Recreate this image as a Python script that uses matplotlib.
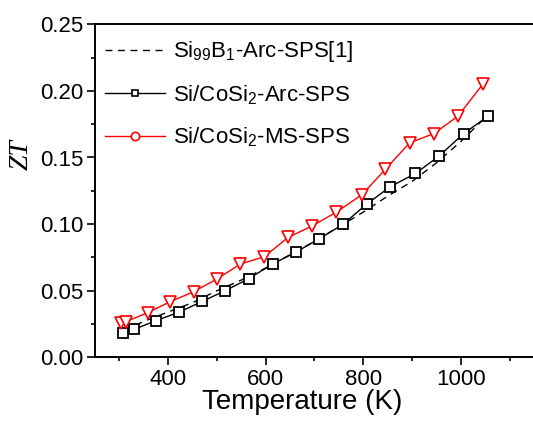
import matplotlib
matplotlib.use("Agg")
import matplotlib.pyplot as plt
from matplotlib.lines import Line2D
from matplotlib.ticker import MultipleLocator, FormatStrFormatter

plt.rcParams['font.family'] = ['Liberation Sans', 'DejaVu Sans']
plt.rcParams['mathtext.default'] = 'regular'

# Si99B1-Arc-SPS [1] (dashed reference curve)
t_ref = [310, 350, 400, 450, 500, 550, 600, 650, 700, 750, 800, 850, 900, 950, 1000, 1050]
zt_ref = [0.020, 0.027, 0.034, 0.041, 0.050, 0.058, 0.067, 0.077, 0.087, 0.098,
          0.109, 0.121, 0.132, 0.146, 0.162, 0.180]

# Si/CoSi2-Arc-SPS (black squares)
t_arc = [308, 330, 375, 423, 470, 517, 565, 614, 662, 710, 759, 807, 855, 907, 955, 1006, 1056]
zt_arc = [0.018, 0.021, 0.0275, 0.034, 0.042, 0.050, 0.059, 0.070, 0.079, 0.089,
          0.100, 0.115, 0.128, 0.138, 0.151, 0.168, 0.181]

# Si/CoSi2-MS-SPS (red triangles)
t_ms = [303, 313, 358, 404, 452, 500, 548, 597, 646, 695, 745, 797, 845, 895, 945, 994, 1045]
zt_ms = [0.026, 0.0267, 0.0335, 0.0417, 0.0492, 0.0588, 0.070, 0.0755, 0.090, 0.0986,
         0.109, 0.122, 0.141, 0.161, 0.168, 0.181, 0.205]

labels = [r'Si$_{99}$B$_1$-Arc-SPS[1]', r'Si/CoSi$_2$-Arc-SPS', r'Si/CoSi$_2$-MS-SPS']

fig = plt.figure(figsize=(5.33, 4.23), dpi=100)
ax = fig.add_axes([95/533, 65.7/423, 439/533, 333/423])

ax.plot(t_ref, zt_ref, color='black', lw=1.0, ls=(0, (5, 4)))
ax.plot(t_arc, zt_arc, color='black', lw=1.0, marker='s', ms=6.5,
        mfc='white', mec='black', mew=1.3)
ax.plot(t_ms, zt_ms, color='red', lw=1.0, marker='v', ms=8.5,
        mfc='white', mec='red', mew=1.2)

ax.set_xlim(250, 1150)
ax.set_ylim(0, 0.25)
ax.set_xticks([400, 600, 800, 1000])
ax.xaxis.set_minor_locator(MultipleLocator(100))
ax.yaxis.set_major_locator(MultipleLocator(0.05))
ax.yaxis.set_minor_locator(MultipleLocator(0.025))
ax.yaxis.set_major_formatter(FormatStrFormatter('%.2f'))

for s in ['left', 'bottom', 'top']:
    ax.spines[s].set_linewidth(1.4)
ax.spines['right'].set_visible(False)
ax.tick_params(which='major', direction='out', length=5.5, width=1.2, labelsize=16, pad=3)
ax.tick_params(which='minor', direction='out', length=3, width=1.2)
ax.tick_params(top=False, right=False, which='both')

ax.set_xlabel('Temperature (K)', fontsize=20)
ax.xaxis.set_label_coords(0.472, -0.095)
ax.set_ylabel('ZT', fontsize=20, family=['Liberation Serif'], style='italic')
ax.yaxis.set_label_coords(-0.14, 0.61)

handles = [
    Line2D([], [], color='black', lw=1.0, ls=(0, (5, 4))),
    Line2D([], [], color='black', lw=1.0, marker='s', ms=5, mfc='white', mec='black', mew=1.2),
    Line2D([], [], color='red', lw=1.0, marker='o', ms=6, mfc='white', mec='red', mew=1.2),
]
ax.legend(handles, labels, loc='upper left', bbox_to_anchor=(0.0, 0.985), frameon=False,
          fontsize=16, handlelength=2.7, handletextpad=0.36, labelspacing=0.85,
          borderaxespad=0.05)

fig.savefig('out.png', dpi=100)
